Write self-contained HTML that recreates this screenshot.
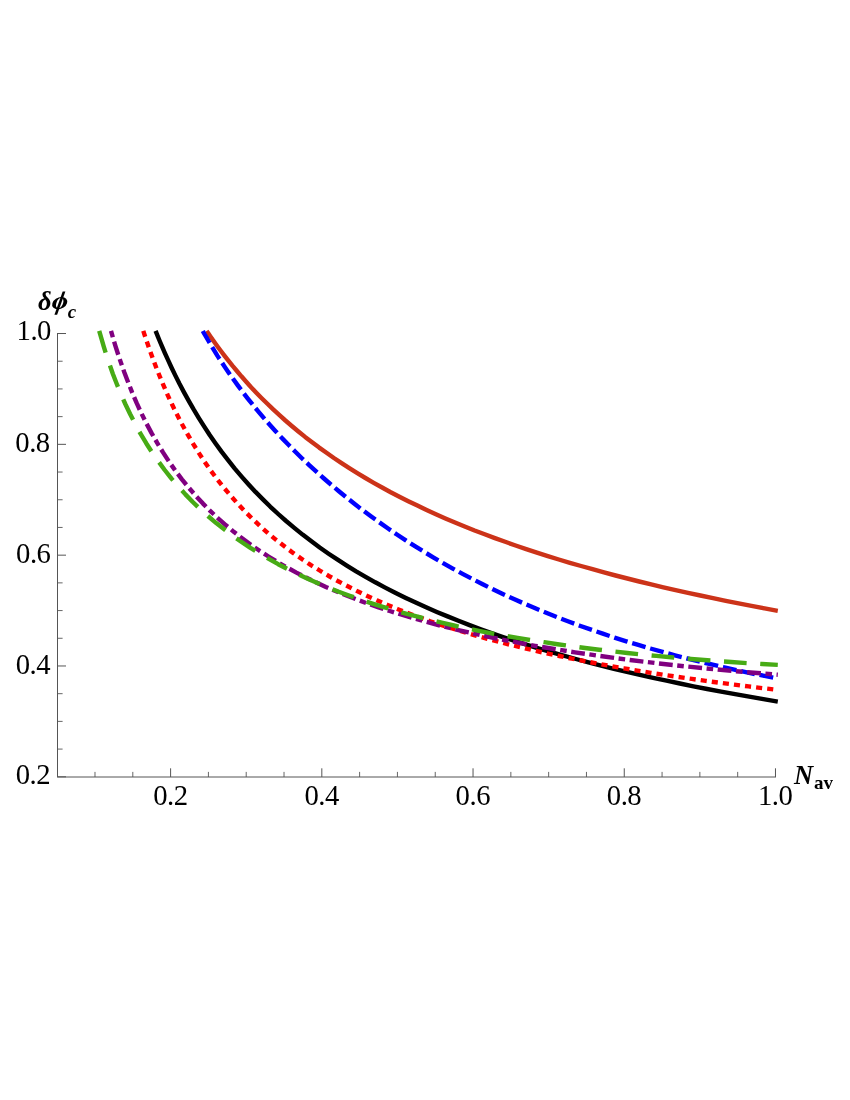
<!DOCTYPE html>
<html><head><meta charset="utf-8"><title>plot</title>
<style>
html,body{margin:0;padding:0;background:#fff;}
body{width:850px;height:1100px;overflow:hidden;font-family:"Liberation Serif",serif;}
svg{display:block;will-change:transform;}
</style></head><body>
<svg width="850" height="1100" viewBox="0 0 850 1100">
<rect width="850" height="1100" fill="#fff"/>
<g fill="none" stroke-width="4.4" stroke-linecap="butt" stroke-linejoin="round">
<path d="M155.6,330.9 L156.3,332.7 L157.8,336.3 L159.7,341.0 L162.1,346.7 L164.9,353.2 L168.1,360.2 L171.6,367.7 L175.4,375.6 L179.5,383.8 L183.9,392.1 L188.6,400.6 L193.5,409.2 L198.7,417.8 L204.1,426.4 L209.7,435.0 L215.6,443.5 L221.7,451.9 L228.1,460.1 L234.6,468.3 L241.4,476.3 L248.4,484.2 L255.5,491.9 L262.9,499.4 L270.4,506.8 L278.2,514.0 L286.1,521.0 L294.3,527.9 L302.6,534.6 L311.1,541.1 L319.7,547.5 L328.6,553.7 L337.6,559.7 L346.8,565.6 L356.1,571.3 L365.6,576.8 L375.3,582.3 L385.2,587.6 L395.2,592.7 L405.3,597.7 L415.7,602.6 L426.1,607.3 L436.8,611.9 L447.6,616.4 L458.5,620.8 L469.6,625.1 L480.8,629.3 L492.2,633.3 L503.7,637.3 L515.4,641.1 L527.2,644.9 L539.2,648.6 L551.3,652.1 L563.6,655.6 L575.9,659.0 L588.5,662.4 L601.1,665.6 L613.9,668.8 L626.9,671.9 L639.9,674.9 L653.1,677.8 L666.5,680.7 L679.9,683.5 L693.5,686.3 L707.2,689.0 L721.1,691.6 L735.1,694.2 L749.2,696.7 L763.4,699.2 L777.8,701.6" stroke="#000000"/>
<path d="M206.6,330.9 L207.3,331.9 L208.6,333.8 L210.4,336.4 L212.6,339.6 L215.2,343.2 L218.1,347.2 L221.3,351.5 L224.8,356.1 L228.6,360.9 L232.6,365.9 L236.9,371.0 L241.4,376.3 L246.2,381.7 L251.1,387.2 L256.3,392.7 L261.7,398.2 L267.4,403.8 L273.2,409.4 L279.2,414.9 L285.4,420.5 L291.8,426.0 L298.4,431.5 L305.1,436.9 L312.1,442.2 L319.2,447.6 L326.5,452.8 L333.9,458.0 L341.6,463.1 L349.3,468.1 L357.3,473.1 L365.4,478.0 L373.7,482.8 L382.1,487.5 L390.7,492.2 L399.4,496.7 L408.3,501.2 L417.4,505.6 L426.6,510.0 L435.9,514.2 L445.4,518.4 L455.0,522.5 L464.7,526.5 L474.6,530.5 L484.7,534.3 L494.9,538.1 L505.2,541.8 L515.6,545.5 L526.2,549.1 L536.9,552.6 L547.8,556.1 L558.8,559.5 L569.9,562.8 L581.1,566.0 L592.5,569.2 L604.0,572.4 L615.6,575.5 L627.4,578.5 L639.2,581.5 L651.2,584.4 L663.4,587.3 L675.6,590.1 L688.0,592.8 L700.4,595.5 L713.0,598.2 L725.8,600.8 L738.6,603.4 L751.5,605.9 L764.6,608.4 L777.8,610.8" stroke="#CC3319"/>
<path d="M143.3,330.9 L144.0,333.1 L145.5,337.6 L147.5,343.5 L149.9,350.6 L152.8,358.5 L156.0,367.0 L159.6,376.0 L163.5,385.3 L167.6,394.9 L172.1,404.6 L176.9,414.3 L181.9,424.0 L187.2,433.6 L192.7,443.1 L198.5,452.4 L204.5,461.6 L210.7,470.5 L217.2,479.2 L223.9,487.7 L230.8,495.9 L237.9,503.9 L245.2,511.7 L252.7,519.1 L260.4,526.4 L268.3,533.4 L276.4,540.1 L284.7,546.6 L293.1,552.9 L301.8,559.0 L310.6,564.9 L319.7,570.5 L328.8,576.0 L338.2,581.3 L347.8,586.3 L357.5,591.3 L367.3,596.0 L377.4,600.6 L387.6,605.0 L397.9,609.2 L408.5,613.3 L419.2,617.3 L430.0,621.2 L441.0,624.9 L452.2,628.5 L463.5,632.0 L474.9,635.3 L486.5,638.6 L498.3,641.7 L510.2,644.8 L522.3,647.7 L534.5,650.6 L546.8,653.4 L559.3,656.0 L571.9,658.7 L584.7,661.2 L597.6,663.6 L610.7,666.0 L623.9,668.3 L637.2,670.6 L650.7,672.8 L664.2,674.9 L678.0,676.9 L691.8,678.9 L705.8,680.9 L720.0,682.8 L734.2,684.6 L748.6,686.4 L763.2,688.2 L777.8,689.9" stroke="#FF0000" stroke-dasharray="6.1 5.07"/>
<path d="M202.8,330.9 L203.4,332.1 L204.7,334.5 L206.6,337.7 L208.8,341.5 L211.4,345.9 L214.3,350.7 L217.5,355.9 L221.1,361.3 L224.9,367.1 L228.9,373.0 L233.2,379.1 L237.8,385.4 L242.6,391.8 L247.6,398.3 L252.8,404.8 L258.2,411.4 L263.9,418.1 L269.7,424.7 L275.8,431.4 L282.0,438.1 L288.5,444.8 L295.1,451.5 L301.9,458.2 L308.9,464.8 L316.1,471.4 L323.4,478.0 L330.9,484.5 L338.6,491.0 L346.4,497.4 L354.4,503.8 L362.6,510.1 L370.9,516.3 L379.4,522.4 L388.1,528.5 L396.9,534.5 L405.8,540.4 L414.9,546.2 L424.2,551.9 L433.6,557.6 L443.1,563.1 L452.8,568.6 L462.6,573.9 L472.6,579.1 L482.7,584.3 L492.9,589.3 L503.3,594.2 L513.9,599.0 L524.5,603.7 L535.3,608.3 L546.2,612.8 L557.3,617.2 L568.5,621.5 L579.8,625.7 L591.2,629.7 L602.8,633.7 L614.5,637.6 L626.3,641.3 L638.3,644.9 L650.4,648.5 L662.6,651.9 L674.9,655.3 L687.3,658.5 L699.9,661.6 L712.6,664.7 L725.4,667.6 L738.3,670.5 L751.4,673.3 L764.5,675.9 L777.8,678.5" stroke="#0000FF" stroke-dasharray="13.9 4.86"/>
<path d="M111.0,330.9 L111.8,333.6 L113.3,338.9 L115.4,345.8 L118.0,354.0 L121.0,362.9 L124.4,372.5 L128.2,382.5 L132.2,392.6 L136.6,402.9 L141.3,413.1 L146.3,423.2 L151.6,433.1 L157.2,442.9 L163.0,452.4 L169.0,461.6 L175.3,470.6 L181.9,479.3 L188.7,487.6 L195.7,495.7 L203.0,503.6 L210.4,511.1 L218.1,518.3 L226.0,525.3 L234.1,532.1 L242.4,538.5 L250.9,544.8 L259.6,550.8 L268.5,556.5 L277.6,562.1 L286.9,567.4 L296.4,572.6 L306.0,577.5 L315.9,582.3 L325.9,586.9 L336.1,591.3 L346.5,595.5 L357.0,599.6 L367.8,603.6 L378.6,607.4 L389.7,611.0 L400.9,614.5 L412.3,617.9 L423.9,621.2 L435.6,624.4 L447.5,627.4 L459.5,630.3 L471.7,633.1 L484.1,635.9 L496.6,638.5 L509.3,641.0 L522.1,643.4 L535.1,645.8 L548.2,648.0 L561.5,650.2 L574.9,652.3 L588.5,654.3 L602.2,656.3 L616.0,658.2 L630.0,660.0 L644.2,661.7 L658.5,663.4 L672.9,665.0 L687.5,666.6 L702.2,668.0 L717.0,669.5 L732.0,670.9 L747.1,672.2 L762.4,673.4 L777.8,674.7" stroke="#800080" stroke-dasharray="6.6 4.56 13.8 4.56"/>
<path d="M99.2,330.9 L100.0,333.7 L101.6,339.2 L103.7,346.4 L106.3,354.8 L109.4,364.0 L112.8,373.7 L116.7,383.7 L120.8,393.8 L125.3,404.0 L130.1,414.0 L135.2,423.9 L140.5,433.7 L146.2,443.2 L152.1,452.4 L158.3,461.3 L164.7,470.0 L171.3,478.4 L178.3,486.5 L185.4,494.4 L192.8,502.0 L200.4,509.3 L208.2,516.3 L216.2,523.1 L224.5,529.6 L232.9,535.9 L241.6,542.0 L250.4,547.9 L259.5,553.5 L268.8,558.9 L278.2,564.2 L287.8,569.2 L297.7,574.0 L307.7,578.7 L317.9,583.2 L328.3,587.5 L338.8,591.7 L349.6,595.7 L360.5,599.6 L371.6,603.3 L382.8,606.8 L394.3,610.3 L405.9,613.6 L417.6,616.7 L429.6,619.8 L441.7,622.7 L453.9,625.5 L466.3,628.2 L478.9,630.8 L491.6,633.3 L504.5,635.7 L517.6,637.9 L530.8,640.1 L544.1,642.2 L557.6,644.2 L571.3,646.1 L585.1,648.0 L599.1,649.7 L613.2,651.4 L627.4,653.0 L641.8,654.5 L656.4,655.9 L671.1,657.3 L685.9,658.6 L700.9,659.8 L716.0,661.0 L731.2,662.0 L746.6,663.1 L762.1,664.0 L777.8,664.9" stroke="#47AB15" stroke-dasharray="22.7 13.62"/>
</g>
<g stroke="#555" stroke-width="1" fill="none">
<path d="M57.0,777.0 H776 M57.5,777.0 V333"/>
<path d="M170.60,777.0 v-8.7 M321.82,777.0 v-8.7 M473.04,777.0 v-8.7 M624.26,777.0 v-8.7 M775.48,777.0 v-8.7 M57.5,776.80 h8.5 M57.5,665.98 h8.5 M57.5,555.16 h8.5 M57.5,444.34 h8.5 M57.5,333.52 h8.5 "/>
</g>
<g stroke="#555" stroke-width="0.9" fill="none">
<path d="M94.99,777.0 v-5.1 M132.80,777.0 v-5.1 M208.41,777.0 v-5.1 M246.21,777.0 v-5.1 M284.02,777.0 v-5.1 M359.62,777.0 v-5.1 M397.43,777.0 v-5.1 M435.24,777.0 v-5.1 M510.85,777.0 v-5.1 M548.65,777.0 v-5.1 M586.46,777.0 v-5.1 M662.07,777.0 v-5.1 M699.87,777.0 v-5.1 M737.68,777.0 v-5.1 M57.5,749.09 h5.1 M57.5,721.39 h5.1 M57.5,693.68 h5.1 M57.5,638.27 h5.1 M57.5,610.57 h5.1 M57.5,582.86 h5.1 M57.5,527.45 h5.1 M57.5,499.75 h5.1 M57.5,472.04 h5.1 M57.5,416.63 h5.1 M57.5,388.93 h5.1 M57.5,361.22 h5.1 "/>
</g>
<g font-family="Liberation Serif, serif" font-size="28.7" fill="#000">
<text x="170.4" y="804.7" text-anchor="middle" letter-spacing="-0.5">0.2</text>
<text x="321.6" y="804.7" text-anchor="middle" letter-spacing="-0.5">0.4</text>
<text x="472.8" y="804.7" text-anchor="middle" letter-spacing="-0.5">0.6</text>
<text x="624.0" y="804.7" text-anchor="middle" letter-spacing="-0.5">0.8</text>
<text x="775.2" y="804.7" text-anchor="middle" letter-spacing="-0.5">1.0</text>
<text x="50.1" y="784.2" text-anchor="end" letter-spacing="-0.5">0.2</text>
<text x="50.0" y="673.5" text-anchor="end" letter-spacing="-0.5">0.4</text>
<text x="50.4" y="562.5" text-anchor="end" letter-spacing="-0.5">0.6</text>
<text x="49.7" y="451.8" text-anchor="end" letter-spacing="-0.5">0.8</text>
<text x="50.9" y="340.3" text-anchor="end" letter-spacing="-0.5">1.0</text>
<text x="38" y="310" font-size="26.5" font-weight="bold" font-style="italic">&#948;</text>
<g transform="translate(59.7 303.2) skewX(-17)"><path fill="#000" fill-rule="evenodd" d="M-7.3,0 a7.3,6.2 0 1,0 14.6,0 a7.3,6.2 0 1,0 -14.6,0 Z M-3.4,0 a3.4,5.1 0 1,0 6.8,0 a3.4,5.1 0 1,0 -6.8,0 Z"/></g><g transform="translate(59.9 303.2) skewX(-19.5)"><rect x="-1.35" y="-11.6" width="2.7" height="23.2" fill="#000"/></g>
<text x="67.8" y="317.9" font-size="19" font-weight="bold" font-style="italic">c</text>
<text x="794" y="783.6" font-size="26.5" font-weight="bold"><tspan font-style="italic">N</tspan><tspan font-size="19" dx="0.8" dy="5.4">av</tspan></text>
</g>
</svg>
</body></html>
